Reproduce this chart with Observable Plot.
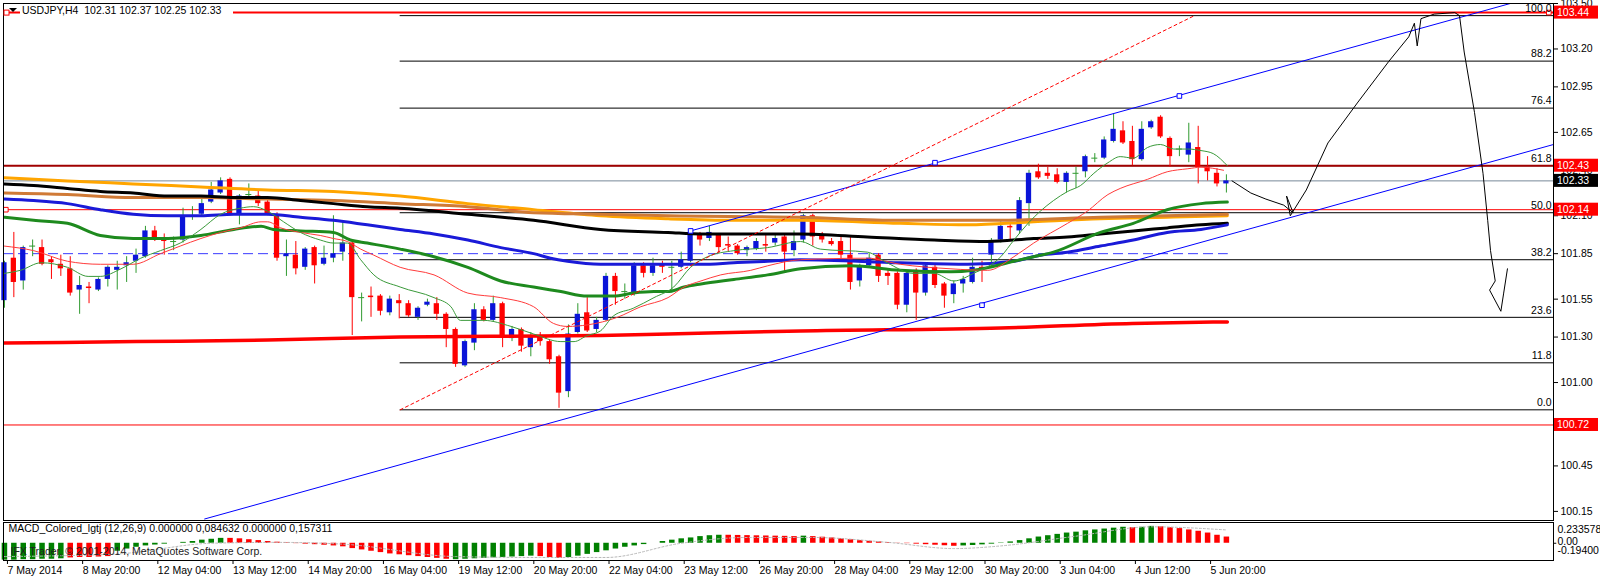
<!DOCTYPE html>
<html>
<head>
<meta charset="utf-8">
<script src="https://cdn.jsdelivr.net/npm/d3@7"></script>
<script src="https://cdn.jsdelivr.net/npm/@observablehq/plot@0.6"></script>
<style>
html,body{margin:0;padding:0;background:#fff;}
#wrap{position:relative;width:1600px;height:581px;overflow:hidden;background:#fff}
#main,#macd{position:absolute;left:0}
#main{top:0}
#macd{top:521px}
svg{display:block}
</style>
</head>
<body>
<div id="wrap"><div id="main"></div><div id="macd"></div></div>
<script>
// ---------------- DATA ----------------
const titleText = "USDJPY,H4  102.31 102.37 102.25 102.33";
const opens = [101.54,101.82,101.67,101.90,101.89,101.81,101.78,101.75,101.61,101.63,101.61,101.68,101.74,101.77,101.80,101.83,102.00,101.95,101.93,101.94,102.10,102.11,102.19,102.25,102.34,102.11,102.24,102.23,102.19,102.10,101.83,101.84,101.76,101.89,101.78,101.82,101.86,101.92,101.56,101.57,101.57,101.46,101.54,101.52,101.43,101.51,101.52,101.45,101.35,101.11,101.26,101.48,101.41,101.52,101.29,101.35,101.23,101.31,101.27,101.17,100.94,101.33,101.46,101.35,101.41,101.70,101.60,101.59,101.77,101.72,101.78,101.76,101.76,101.80,101.98,101.95,101.97,101.91,101.90,101.87,101.88,101.91,101.92,101.96,101.87,101.94,102.10,101.97,101.93,101.93,101.84,101.67,101.77,101.84,101.72,101.72,101.51,101.74,101.59,101.76,101.65,101.58,101.65,101.66,101.76,101.84,101.94,102.03,102.00,102.18,102.39,102.38,102.37,102.32,102.38,102.39,102.48,102.48,102.59,102.66,102.59,102.47,102.68,102.75,102.61,102.54,102.50,102.55,102.42,102.38,102.31];
const highs = [101.80,101.99,101.90,101.94,101.94,101.83,101.84,101.83,101.70,101.66,101.69,101.77,101.80,101.83,101.88,102.03,102.03,101.98,101.96,102.15,102.16,102.21,102.32,102.35,102.35,102.24,102.31,102.27,102.20,102.12,101.94,101.93,101.89,101.90,101.90,102.10,102.06,101.93,101.59,101.63,101.58,101.57,101.58,101.54,101.50,101.55,101.56,101.46,101.36,101.28,101.52,101.50,101.57,101.53,101.37,101.36,101.33,101.33,101.28,101.18,101.38,101.52,101.56,101.43,101.72,101.72,101.65,101.79,101.79,101.82,101.80,101.80,101.86,102.00,101.99,102.03,101.98,101.96,101.91,101.90,101.95,101.97,101.97,101.98,102.00,102.11,102.11,101.99,101.95,101.96,101.96,101.78,101.85,101.85,101.74,101.73,101.73,101.75,101.79,101.78,101.66,101.67,101.70,101.82,101.80,101.95,102.06,102.05,102.22,102.40,102.44,102.42,102.41,102.39,102.42,102.50,102.51,102.62,102.77,102.72,102.69,102.72,102.73,102.76,102.62,102.56,102.71,102.69,102.49,102.41,102.37];
const lows = [101.49,101.56,101.61,101.83,101.77,101.68,101.70,101.57,101.45,101.52,101.60,101.63,101.61,101.66,101.72,101.82,101.93,101.84,101.87,101.92,102.07,102.09,102.18,102.24,102.10,102.04,102.22,102.16,102.10,101.80,101.70,101.71,101.74,101.65,101.77,101.79,101.80,101.31,101.40,101.43,101.44,101.44,101.42,101.43,101.41,101.50,101.41,101.23,101.10,101.10,101.21,101.40,101.40,101.23,101.27,101.20,101.17,101.24,101.12,100.83,100.90,101.32,101.33,101.33,101.40,101.51,101.55,101.57,101.69,101.70,101.72,101.59,101.75,101.79,101.90,101.93,101.85,101.86,101.84,101.83,101.87,101.86,101.90,101.72,101.83,101.92,101.90,101.92,101.90,101.80,101.61,101.63,101.76,101.66,101.64,101.48,101.46,101.41,101.57,101.62,101.49,101.52,101.59,101.65,101.66,101.76,101.92,101.94,101.98,102.03,102.34,102.34,102.31,102.25,102.28,102.35,102.45,102.47,102.58,102.57,102.43,102.46,102.67,102.61,102.42,102.49,102.45,102.31,102.33,102.29,102.25];
const closes = [101.79,101.66,101.89,101.90,101.78,101.79,101.75,101.59,101.64,101.62,101.68,101.76,101.76,101.79,101.84,102.00,101.95,101.93,101.93,102.10,102.10,102.18,102.27,102.33,102.11,102.23,102.24,102.18,102.11,101.82,101.85,101.75,101.88,101.77,101.82,101.85,101.92,101.56,101.56,101.56,101.47,101.55,101.52,101.44,101.49,101.53,101.45,101.35,101.12,101.27,101.48,101.41,101.52,101.30,101.35,101.24,101.31,101.27,101.15,100.93,101.32,101.45,101.34,101.41,101.70,101.60,101.60,101.77,101.72,101.77,101.76,101.76,101.81,101.99,101.94,101.99,101.89,101.90,101.85,101.89,101.93,101.90,101.95,101.86,101.93,102.10,101.96,101.94,101.91,101.84,101.66,101.76,101.82,101.70,101.70,101.51,101.72,101.59,101.77,101.64,101.57,101.65,101.68,101.76,101.75,101.93,102.03,102.02,102.20,102.38,102.35,102.36,102.32,102.38,102.38,102.49,102.48,102.60,102.67,102.58,102.47,102.67,102.72,102.62,102.49,102.54,102.58,102.42,102.39,102.31,102.33];

const dateTicks = [0,8,16,24,32,40,48,56,64,72,80,88,96,104,112,120,128];
const dateLabels = ["7 May 2014","8 May 20:00","12 May 04:00","13 May 12:00","14 May 20:00","16 May 04:00","19 May 12:00","20 May 20:00","22 May 04:00","23 May 12:00","26 May 20:00","28 May 04:00","29 May 12:00","30 May 20:00","3 Jun 04:00","4 Jun 12:00","5 Jun 20:00"];
const priceTicks = [103.50,103.20,102.95,102.65,102.40,102.10,101.85,101.55,101.30,101.00,100.70,100.45,100.15];

const fibNames = ["0.0","11.8","23.6","38.2","50.0","61.8","76.4","88.2","100.0"];
const fibPrices = [100.82,101.13,101.43,101.81,102.12,102.43,102.81,103.12,103.42];
const fibStartBar = 42.1;

const priceLabels = [
  {p:103.44, t:"103.44", bg:"#ff0000"},
  {p:102.43, t:"102.43", bg:"#ff0000"},
  {p:102.33, t:"102.33", bg:"#000000"},
  {p:102.14, t:"102.14", bg:"#ff0000"},
  {p:100.72, t:"100.72", bg:"#ff0000"}
];

// moving averages: [bar index, price]
const maFastGreen = [[0,101.72],[1.7,101.74],[3.9,101.79],[6.7,101.76],[8.9,101.70],[10.2,101.70],[12.4,101.75],[14.5,101.82],[16.6,101.87],[18.7,101.92],[20.9,102.01],[23.0,102.11],[25.1,102.15],[26.5,102.16],[28.0,102.13],[29.7,102.06],[31.5,101.99],[33.6,101.94],[35.0,101.92],[36.5,101.92],[37.9,101.81],[39.3,101.71],[42.1,101.63],[45.7,101.56],[47.5,101.50],[48.5,101.41],[51.0,101.41],[53.9,101.37],[56.3,101.32],[59.2,101.27],[60.6,101.27],[62.0,101.31],[63.4,101.34],[64.8,101.44],[66.9,101.49],[69.1,101.56],[71.2,101.63],[73.0,101.76],[74.8,101.83],[77.6,101.87],[81.2,101.89],[84.7,101.93],[86.8,101.88],[91.8,101.86],[93.9,101.79],[96.7,101.72],[98.9,101.72],[101.0,101.67],[103.1,101.72],[106.0,101.83],[107.4,101.94],[108.9,102.05],[110.2,102.13],[111.6,102.20],[113.1,102.26],[114.5,102.30],[115.9,102.38],[117.4,102.45],[118.7,102.49],[120.1,102.48],[121.6,102.55],[123.0,102.57],[124.4,102.54],[125.9,102.54],[127.3,102.53],[128.6,102.51],[130.1,102.43]];
const maThinRed = [[0,101.90],[3.1,101.87],[6.7,101.80],[10.2,101.78],[13.7,101.78],[16.6,101.85],[18.7,101.90],[20.9,101.95],[23.0,101.99],[25.1,102.02],[27.3,102.06],[28.0,102.06],[29.4,102.02],[31.5,101.99],[33.6,101.97],[35.0,101.95],[36.5,101.93],[37.9,101.88],[39.3,101.84],[42.1,101.76],[45.7,101.71],[49.3,101.59],[52.8,101.56],[56.3,101.50],[58.4,101.39],[59.9,101.37],[62.0,101.38],[65.2,101.43],[67.7,101.50],[70.6,101.56],[72.3,101.63],[74.1,101.67],[76.2,101.71],[79.4,101.74],[81.2,101.77],[84.7,101.81],[91.8,101.82],[95.3,101.78],[100.7,101.75],[104.6,101.74],[107.4,101.83],[109.5,101.92],[113.1,102.05],[115.2,102.13],[117.4,102.24],[118.7,102.28],[121.6,102.34],[123.7,102.39],[125.9,102.41],[127.3,102.42],[129.7,102.40]];
const maGreen = [[0,102.09],[3.1,102.07],[6.7,102.05],[10.2,101.97],[13.7,101.95],[17.4,101.95],[20.9,101.97],[24.4,102.01],[27.3,102.03],[28.6,102.01],[31.5,102.00],[35.0,101.99],[36.8,101.94],[38.6,101.92],[42.1,101.88],[45.7,101.83],[49.3,101.76],[52.8,101.67],[56.3,101.63],[59.2,101.60],[62.0,101.57],[64.8,101.57],[66.9,101.59],[69.1,101.60],[70.6,101.60],[72.3,101.63],[74.1,101.65],[77.6,101.68],[81.2,101.71],[84.7,101.75],[90.0,101.77],[95.3,101.74],[100.7,101.73],[103.1,101.74],[107.4,101.80],[109.5,101.83],[111.6,101.86],[116.6,101.99],[120.1,102.05],[123.7,102.14],[127.3,102.18],[130.1,102.19]];
const maBlue = [[0,102.21],[3.1,102.20],[6.7,102.18],[10.2,102.14],[13.7,102.11],[17.4,102.10],[20.9,102.10],[24.4,102.11],[28.0,102.11],[31.5,102.09],[35.0,102.07],[38.6,102.04],[42.1,102.01],[45.7,101.98],[49.3,101.94],[52.8,101.89],[56.3,101.85],[58.1,101.82],[59.9,101.80],[63.4,101.78],[66.9,101.78],[74.1,101.78],[77.6,101.79],[81.2,101.80],[84.7,101.81],[95.3,101.79],[102.5,101.78],[107.4,101.80],[110.2,101.84],[113.1,101.86],[116.6,101.90],[120.1,101.94],[123.7,101.99],[127.3,102.01],[130.1,102.04]];
const maBlack = [[0,102.31],[3.1,102.30],[6.7,102.28],[10.2,102.26],[13.7,102.25],[17.4,102.23],[20.9,102.23],[24.4,102.22],[28.0,102.22],[31.5,102.20],[35.0,102.18],[38.6,102.16],[42.1,102.15],[49.3,102.11],[56.3,102.07],[63.4,102.01],[70.6,101.99],[74.1,101.98],[84.7,101.98],[91.8,101.96],[98.9,101.94],[104.6,101.93],[109.5,101.95],[113.1,101.96],[116.6,101.98],[120.1,102.00],[123.7,102.02],[127.3,102.04],[130.1,102.05]];
const maOrange = [[0,102.35],[6.7,102.33],[13.7,102.31],[20.9,102.29],[28.0,102.27],[35.0,102.26],[42.1,102.23],[49.3,102.18],[56.3,102.14],[63.4,102.10],[70.6,102.08],[77.6,102.07],[84.7,102.07],[95.3,102.05],[102.5,102.04],[109.5,102.06],[116.6,102.08],[123.7,102.09],[130.1,102.10]];
const maBrown = [[0,102.25],[6.7,102.24],[13.7,102.22],[20.9,102.22],[28.0,102.21],[35.0,102.20],[42.1,102.18],[49.3,102.16],[56.3,102.12],[63.4,102.11],[70.6,102.10],[84.7,102.09],[95.3,102.07],[106.0,102.07],[116.6,102.09],[130.1,102.11]];
const maThickRed = [[0,101.26],[14,101.27],[28,101.28],[42.1,101.30],[63.4,101.31],[70.6,101.32],[84.7,101.34],[106,101.36],[120,101.39],[130.1,101.40]];

// drawn objects
const channelUpper = [[73,102.00],[160.2,103.50]];
const channelLower = [[21.3,100.10],[164.8,102.57]];
const channelPoints = [[73,102.00],[99,102.45],[125,102.89],[104,101.51]];
const fibDiagonal = [[42.1,100.82],[126.6,103.42]];
const anchorSquares = [[0.15,102.14],[164.3,103.44]];
const projection = [[130.6,102.33],[132.6,102.25],[134.2,102.21],[136.1,102.17],[137.1,102.12],[136.4,102.23],[136.8,102.10],[138.5,102.27],[140.8,102.58],[144.0,102.85],[147.3,103.12],[149.4,103.28],[150.0,103.37],[150.3,103.22],[150.7,103.40],[152.1,103.43],[154.3,103.44],[154.8,103.42],[155.3,103.18],[156.4,102.78],[157.3,102.38],[157.8,102.07],[158.1,101.87],[158.6,101.67],[158.0,101.61],[159.2,101.47],[159.5,101.59],[159.9,101.75]];

// MACD histogram
const macdHist = [-0.19,-0.19,-0.185,-0.185,-0.18,-0.18,-0.175,
 -0.165,-0.16,-0.16,-0.155,-0.15,
 -0.09,-0.065,-0.045,-0.03,-0.02,-0.01,0.0,0.01,0.02,
 0.035,0.045,0.055,
 0.055,0.05,0.04,0.03,0.02,
 0.012,0.006,-0.004,-0.01,-0.016,-0.022,-0.03,-0.04,
 -0.06,-0.075,-0.09,-0.105,-0.12,-0.13,-0.14,-0.15,-0.16,-0.17,-0.18,
 -0.185,-0.18,-0.175,-0.17,-0.165,-0.16,-0.155,-0.15,-0.145,
 -0.15,-0.16,-0.17,
 -0.16,-0.145,-0.125,-0.105,-0.085,-0.065,-0.045,-0.03,-0.015,0.0,
 0.02,0.035,0.05,0.06,0.075,0.085,0.09,
 0.09,0.088,0.086,0.084,0.082,0.08,0.078,0.075,
 0.08,
 0.075,0.068,0.06,0.05,0.04,0.03,
 0.022,0.015,0.008,0.002,-0.004,-0.01,-0.016,-0.022,-0.028,-0.034,
 -0.03,-0.025,-0.018,-0.01,0.004,
 0.015,0.03,0.05,0.07,0.085,0.1,0.115,0.125,
 0.14,0.15,0.16,0.17,0.18,
 0.175,
 0.18,0.19,
 0.185,0.175,0.165,0.15,0.135,0.115,0.09,0.07];
const macdColorRuns = [["G",7],["R",5],["G",12],["R",24],["G",9],["R",3],["G",17],["R",8],["G",1],["R",16],["G",18],["R",1],["G",2],["R",8]];
const macdSignal = [[0,-0.15],[12,-0.12],[22,0.0],[29,0.01],[36,-0.01],[48,-0.15],[57,-0.16],[64,-0.16],[72,0.0],[79,0.065],[86,0.065],[94,0.01],[101,-0.06],[106,-0.03],[114,0.08],[122,0.185],[130,0.15]];
const macdTitle = "MACD_Colored_lgtj (12,26,9) 0.000000 0,084632 0.000000 0,157311";
const copyright = "IFX Trader, \u00a9 2001-2014, MetaQuotes Software Corp.";
const macdMax = 0.233578, macdMin = -0.194;

// ---------------- CHART ----------------
const FONT = "'Liberation Sans', Arial, sans-serif";
const FS = "10.5px";
const xDomain = [-0.1, 164.8];
const upBody = "#0a14d8", dnBody = "#ff0000", upWick = "#2f9a2f";

const candles = opens.map((o,i)=>({i,o,h:highs[i],l:lows[i],c:closes[i]}));
const bodies = candles.filter(d=>d.o!==d.c);
const dojis = candles.filter(d=>d.o===d.c);
const pts = arr => arr.map(([i,p])=>({i,p}));
const maLine = (arr, stroke, w) => Plot.line(pts(arr), {x:"i", y:"p", stroke, strokeWidth:w, curve:"monotone-x", clip:true});

const mainPlot = Plot.plot({
  width:1600, height:521,
  marginLeft:3, marginRight:47, marginTop:3, marginBottom:1,
  x:{domain:xDomain, axis:null, label:null},
  y:{domain:[100.09,103.5], axis:null, label:null},
  color:{type:"identity"},
  style:{fontFamily:FONT, fontSize:FS, color:"#000", background:"#fff"},
  marks:[
    Plot.ruleY(fibPrices, {y:d=>d, x1:fibStartBar, x2:xDomain[1], stroke:"#000", strokeWidth:1}),
    Plot.ruleY([102.33], {stroke:"#778899"}),
    Plot.ruleY([101.85], {x1:xDomain[0], x2:130.2, stroke:"#3a3aff", strokeDasharray:"10,5"}),
    Plot.ruleY([102.14], {stroke:"#ff0000"}),
    Plot.ruleY([100.72], {stroke:"#ff0000"}),
    Plot.ruleY([102.43], {stroke:"#a00000", strokeWidth:2}),
    Plot.ruleY([103.44], {stroke:"#ff0000", strokeWidth:2}),
    // candles
    Plot.ruleX(candles, {x:"i", y1:"l", y2:"h", stroke:d=>d.c>=d.o?upWick:dnBody}),
    Plot.rect(bodies, {x1:d=>d.i-0.28, x2:d=>d.i+0.28, y1:"o", y2:"c", fill:d=>d.c>d.o?upBody:dnBody}),
    Plot.ruleY(dojis, {y:"c", x1:d=>d.i-0.32, x2:d=>d.i+0.32, stroke:upWick}),
    // moving averages
    maLine(maOrange, "#ffa500", 3),
    maLine(maBrown, "#d07a36", 3),
    maLine(maBlack, "#000000", 3),
    maLine(maBlue, "#1a1ad8", 3),
    maLine(maGreen, "#1e8a1e", 3),
    maLine(maThickRed, "#ff0000", 3.5),
    maLine(maThinRed, "#ff3b3b", 1),
    maLine(maFastGreen, "#3a9a3a", 1),
    // objects
    Plot.line(pts(channelUpper), {x:"i", y:"p", stroke:"#0000ff", strokeWidth:1, clip:true}),
    Plot.line(pts(channelLower), {x:"i", y:"p", stroke:"#0000ff", strokeWidth:1, clip:true}),
    Plot.line(pts(fibDiagonal), {x:"i", y:"p", stroke:"#ff0000", strokeWidth:1, strokeDasharray:"3,3"}),
    Plot.line(pts(projection), {x:"i", y:"p", stroke:"#000", strokeWidth:1, curve:"linear"}),
    Plot.dot(pts(channelPoints), {x:"i", y:"p", symbol:"square", r:2.6, stroke:"#0000ff", fill:"#fff", strokeWidth:1}),
    Plot.dot(pts(anchorSquares), {x:"i", y:"p", symbol:"square", r:2.6, stroke:"#ff0000", fill:"#fff", strokeWidth:1}),
    Plot.text(fibPrices, {x:xDomain[1], y:d=>d, text:(d,i)=>fibNames[i], textAnchor:"end", dx:-2, dy:-7, fill:"#000"}),
    Plot.frame({stroke:"#000"}),
    Plot.axisY(priceTicks, {anchor:"right", label:null, tickSize:4, tickPadding:3, tickFormat:d=>d.toFixed(2), stroke:"#000", fill:"#000"})
  ]
});
document.getElementById("main").appendChild(mainPlot);

// price label boxes and title drawn with the plot's scales
{
  const ys = mainPlot.scale("y"), xs = mainPlot.scale("x");
  const xr = xs.apply(xDomain[1]);
  const svg = d3.select(mainPlot);
  const g = svg.append("g").attr("text-anchor","start");
  priceLabels.forEach(l=>{
    const y = ys.apply(l.p);
    g.append("rect").attr("x",xr+1).attr("y",y-6.5).attr("width",44).attr("height",13).attr("fill",l.bg);
    g.append("text").attr("x",xr+4).attr("y",y).attr("dy","0.36em").attr("fill","#fff").attr("text-anchor","start")
      .style("font-family",FONT).style("font-size",FS).text(l.t);
  });
  const xl = xs.apply(xDomain[0]);
  const yt = ys.apply(103.44);
  const tg = svg.append("g").attr("text-anchor","start");
  tg.append("rect").attr("x",xl+17).attr("y",yt-8).attr("width",213).attr("height",15).attr("fill","#fff");
  tg.append("text").attr("x",xl+19).attr("y",yt-1.5).attr("dy","0.36em").attr("fill","#000").attr("text-anchor","start")
    .style("font-family",FONT).style("font-size",FS).text(titleText);
  tg.append("rect").attr("x",xl+1).attr("y",yt-2).attr("width",5).attr("height",5).attr("fill","#fff").attr("stroke","#ff0000");
  tg.append("path").attr("d",`M${xl+6},${yt-4}h8l-4,4z`).attr("fill","#000");
}

// ---------------- MACD ----------------
const macdColors = macdColorRuns.flatMap(([c,n])=>Array(n).fill(c==="G"?"#008000":"#ff0000"));
const macdData = macdHist.map((v,i)=>({i,v,col:macdColors[i]}));

const macdPlot = Plot.plot({
  width:1600, height:60,
  marginLeft:3, marginRight:47, marginTop:1, marginBottom:21,
  x:{domain:xDomain, axis:null, label:null},
  y:{domain:[macdMin,0.2336], axis:null, label:null},
  color:{type:"identity"},
  style:{fontFamily:FONT, fontSize:FS, color:"#000", background:"#fff"},
  marks:[
    Plot.ruleX(macdData, {x:"i", y1:0, y2:"v", stroke:"col", strokeWidth:5.5}),
    Plot.line(pts(macdSignal), {x:"i", y:"p", stroke:"#b8b8b8", strokeWidth:1, strokeDasharray:"2,2", curve:"monotone-x"}),
    Plot.text([macdTitle], {frameAnchor:"top-left", dx:5, dy:2, fill:"#000"}),
    Plot.text([copyright], {frameAnchor:"top-left", dx:7, dy:25, fill:"#222"}),
    Plot.frame({stroke:"#000"}),
    Plot.ruleY([0], {x1:xDomain[1], x2:xDomain[1]+0.35, stroke:"#000"}),
    Plot.text([macdMax], {x:xDomain[1], y:d=>d, text:d=>String(d), dy:7, dx:4, textAnchor:"start", fill:"#000"}),
    Plot.text([0], {x:xDomain[1], y:d=>d, text:()=>"0.00", dy:-1.5, dx:4, textAnchor:"start", fill:"#000"}),
    Plot.text([macdMin], {x:xDomain[1], y:d=>d, text:d=>d.toFixed(5), dy:-10, dx:4, textAnchor:"start", fill:"#000"}),
    Plot.axisX(dateTicks, {anchor:"bottom", label:null, tickSize:4, tickPadding:2, textAnchor:"start", dx:3,
      tickFormat:(d)=>dateLabels[dateTicks.indexOf(d)], stroke:"#000", fill:"#000"})
  ]
});
document.getElementById("macd").appendChild(macdPlot);
</script>
</body>
</html>
